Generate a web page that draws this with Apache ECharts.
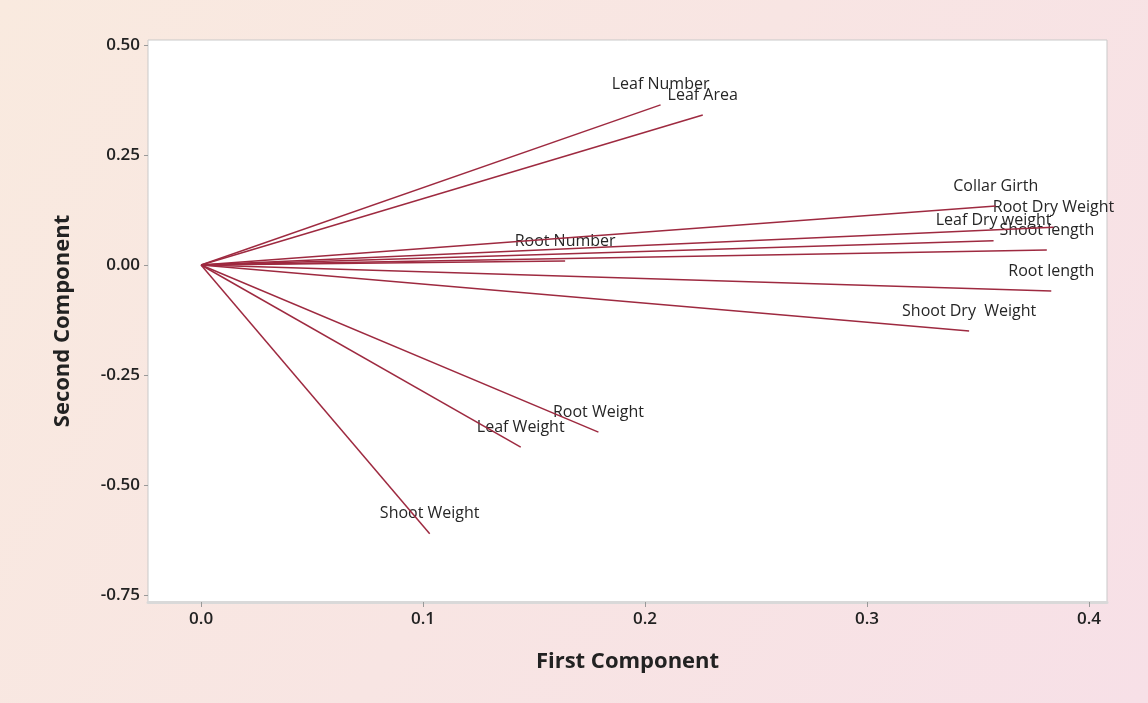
<!DOCTYPE html>
<html>
<head>
<meta charset="utf-8">
<script src="https://cdn.jsdelivr.net/npm/echarts@6/dist/echarts.min.js"></script>
<style>
  html, body { margin: 0; padding: 0; }
  #chart { width: 1148px; height: 703px; }
</style>
</head>
<body>
<div id="chart"></div>
<script>
// loading plot data (first / second component)
var variables = ['Leaf Number', 'Leaf Area', 'Collar Girth', 'Root Dry Weight', 'Leaf Dry weight',
                 'Shoot length', 'Root Number', 'Root length', 'Shoot Dry  Weight', 'Root Weight',
                 'Leaf Weight', 'Shoot Weight'];
var firstComp  = [0.207, 0.226, 0.358, 0.384, 0.357, 0.381, 0.164, 0.383, 0.346, 0.179, 0.144, 0.103];
var secondComp = [0.364, 0.341, 0.134, 0.086, 0.055, 0.034, 0.009, -0.059, -0.150, -0.380, -0.414, -0.611];
var xTicks = [0, 0.1, 0.2, 0.3, 0.4];
var yTicks = [-0.75, -0.5, -0.25, 0, 0.25, 0.5];

var chart = echarts.init(document.getElementById('chart'));
var font = '"Open Sans", "Noto Sans", sans-serif';
var lineColor = '#9e2a40';

var series = [];
for (var i = 0; i < variables.length; i++) {
  series.push({
    name: variables[i],
    type: 'line',
    symbol: 'none',
    silent: true,
    lineStyle: { color: lineColor, width: 1.5 },
    data: [[0, 0], [firstComp[i], secondComp[i]]]
  });
}
// labels at the end of each vector
series.push({
  type: 'scatter',
  symbolSize: 0,
  silent: true,
  itemStyle: { opacity: 1 },
  label: {
    show: true,
    position: 'top',
    distance: 12,
    color: '#262626',
    fontFamily: font,
    fontSize: 16,
    formatter: function (p) { return variables[p.dataIndex]; }
  },
  data: firstComp.map(function (v, i) { return [v, secondComp[i]]; })
});

chart.setOption({
  animation: false,
  backgroundColor: {
    type: 'linear', x: 0, y: 0, x2: 1, y2: 1,
    colorStops: [{ offset: 0, color: '#f9eadf' }, { offset: 1, color: '#f7e0e7' }]
  },
  grid: { left: 148, right: 41, top: 40, bottom: 101, show: true, backgroundColor: '#fff',
          borderColor: '#c9c9c9', borderWidth: 1 },
  xAxis: {
    type: 'value', min: -0.0239, max: 0.4081,
    name: 'First Component', nameLocation: 'middle', nameGap: 49,
    nameTextStyle: { fontFamily: font, fontSize: 22, fontWeight: 'bold', color: '#222' },
    axisLine: { show: true, onZero: false, lineStyle: { color: '#d9d9d9', width: 3 } },
    axisTick: { show: true, length: 5, customValues: xTicks, lineStyle: { color: '#999' } },
    splitLine: { show: false },
    axisLabel: { customValues: xTicks, fontFamily: font, fontSize: 17, fontWeight: 600, color: '#222', margin: 9,
                 formatter: function (v) { return v.toFixed(1); } }
  },
  yAxis: {
    type: 'value', min: -0.766, max: 0.5114,
    name: 'Second Component', nameLocation: 'middle', nameGap: 74,
    nameTextStyle: { fontFamily: font, fontSize: 22, fontWeight: 'bold', color: '#222' },
    axisLine: { show: false, onZero: false },
    axisTick: { show: true, length: 4, customValues: yTicks, lineStyle: { color: '#999' } },
    splitLine: { show: false },
    axisLabel: { customValues: yTicks, fontFamily: font, fontSize: 17, fontWeight: 600, color: '#222', margin: 8,
                 formatter: function (v) { return v.toFixed(2); } }
  },
  series: series
});
</script>
</body>
</html>
